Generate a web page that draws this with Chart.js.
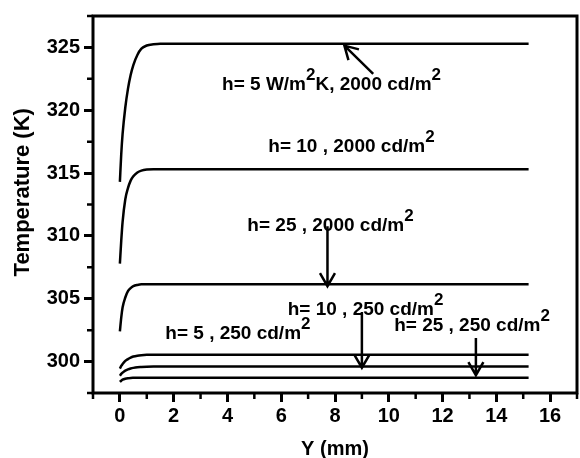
<!DOCTYPE html>
<html>
<head>
<meta charset="utf-8">
<script src="https://cdn.jsdelivr.net/npm/chart.js@4"></script>
<style>
  html, body { margin: 0; padding: 0; background: #fff; }
</style>
</head>
<body>
<canvas id="tempChart" width="580" height="458"></canvas>
<script>
// positions along Y (mm) where the curves were read
const yPos = [0, 0.05, 0.1, 0.2, 0.3, 0.4, 0.5, 0.65, 0.8, 1.0, 1.25, 1.5, 2, 15.2];

// temperatures (K), 2000 cd/m2
const tH5L2000  = [314.3, 316.5, 318.1, 320.2, 321.7, 322.8, 323.6, 324.4, 324.9, 325.15, 325.25, 325.3, 325.3, 325.3];
const tH10L2000 = [307.8, 309.6, 311.1, 312.9, 313.8, 314.4, 314.75, 315.05, 315.2, 315.28, 315.3, 315.3, 315.3, 315.3];
const tH25L2000 = [302.4, 303.5, 304.3, 305.1, 305.6, 305.85, 306.0, 306.1, 306.15, 306.15, 306.15, 306.15, 306.15, 306.15];
// temperatures (K), 250 cd/m2
const tH5L250  = [299.44, 299.65, 299.8, 300.05, 300.2, 300.32, 300.4, 300.47, 300.51, 300.54, 300.55, 300.55, 300.55, 300.55];
const tH10L250 = [298.87, 299.02, 299.12, 299.28, 299.38, 299.45, 299.5, 299.55, 299.57, 299.59, 299.6, 299.6, 299.6, 299.6];
const tH25L250 = [298.38, 298.48, 298.56, 298.64, 298.68, 298.7, 298.71, 298.72, 298.72, 298.72, 298.72, 298.72, 298.72, 298.72];

// axis ticks
const xTickValues = [0, 2, 4, 6, 8, 10, 12, 14, 16];
const xMinorTicks = [-1, 1, 3, 5, 7, 9, 11, 13, 15, 17];
const yTickValues = [300, 305, 310, 315, 320, 325];
const yMinorTicks = [297.5, 302.5, 307.5, 312.5, 317.5, 322.5, 327.5];

const FONT = '"Liberation Sans", Arial, sans-serif';

// text labels inside the plot (data coordinates of left/baseline), parts: [text, superscript]
const notes = [
    { x: 3.80, y: 321.6, parts: [['h= 5 W/m', false], ['2', true], ['K, 2000 cd/m', false], ['2', true]] },
    { x: 5.52, y: 316.7, parts: [['h= 10 , 2000 cd/m', false], ['2', true]] },
    { x: 4.74, y: 310.39, parts: [['h= 25 , 2000 cd/m', false], ['2', true]] },
    { x: 6.24, y: 303.69, parts: [['h= 10 , 250 cd/m', false], ['2', true]] },
    { x: 10.2, y: 302.4, parts: [['h= 25 , 250 cd/m', false], ['2', true]] },
    { x: 1.69, y: 301.76, parts: [['h= 5 , 250 cd/m', false], ['2', true]] }
];

// arrows: tail -> tip, data coordinates
const arrows = [
    { x1: 9.42, y1: 322.9, x2: 8.35, y2: 325.14 },
    { x1: 7.72, y1: 310.77, x2: 7.72, y2: 306.0 },
    { x1: 9.0, y1: 303.94, x2: 9.0, y2: 299.51 },
    { x1: 13.24, y1: 301.88, x2: 13.24, y2: 298.92 }
];

function toPoints(values) {
    return yPos.map((p, i) => ({ x: p, y: values[i] }));
}

const decorPlugin = {
    id: 'decor',
    afterDatasetsDraw(chart) {
        const { ctx, chartArea: a, scales: { x, y } } = chart;
        ctx.save();
        ctx.strokeStyle = '#000';
        ctx.fillStyle = '#000';

        // frame
        ctx.lineWidth = 3;
        ctx.strokeRect(a.left, a.top, a.right - a.left, a.bottom - a.top);

        // minor ticks
        ctx.lineWidth = 2.5;
        ctx.beginPath();
        xMinorTicks.forEach(v => {
            const px = x.getPixelForValue(v);
            ctx.moveTo(px, a.bottom);
            ctx.lineTo(px, a.bottom + 6);
        });
        yMinorTicks.forEach(v => {
            const py = y.getPixelForValue(v);
            ctx.moveTo(a.left, py);
            ctx.lineTo(a.left - 6, py);
        });
        ctx.stroke();

        // arrows with open heads
        ctx.lineWidth = 2.5;
        arrows.forEach(ar => {
            const sx = x.getPixelForValue(ar.x1), sy = y.getPixelForValue(ar.y1);
            const ex = x.getPixelForValue(ar.x2), ey = y.getPixelForValue(ar.y2);
            const ang = Math.atan2(ey - sy, ex - sx);
            const len = 15, spread = Math.PI / 6;
            ctx.beginPath();
            ctx.moveTo(sx, sy);
            ctx.lineTo(ex, ey);
            ctx.moveTo(ex - len * Math.cos(ang - spread), ey - len * Math.sin(ang - spread));
            ctx.lineTo(ex, ey);
            ctx.lineTo(ex - len * Math.cos(ang + spread), ey - len * Math.sin(ang + spread));
            ctx.stroke();
        });

        // labels
        ctx.textBaseline = 'alphabetic';
        ctx.textAlign = 'left';
        notes.forEach(n => {
            let px = x.getPixelForValue(n.x);
            const py = y.getPixelForValue(n.y);
            n.parts.forEach(([txt, sup]) => {
                ctx.font = sup ? 'bold 17px ' + FONT : 'bold 19px ' + FONT;
                ctx.fillText(txt, px, sup ? py - 10 : py);
                px += ctx.measureText(txt).width;
            });
        });

        ctx.restore();
    }
};

const lineStyle = {
    showLine: true,
    borderColor: '#000',
    borderWidth: 2.5,
    pointRadius: 0,
    cubicInterpolationMode: 'monotone',
    fill: false
};

new Chart(document.getElementById('tempChart'), {
    type: 'scatter',
    data: {
        datasets: [
            { label: 'h=5, 2000', data: toPoints(tH5L2000), ...lineStyle },
            { label: 'h=10, 2000', data: toPoints(tH10L2000), ...lineStyle },
            { label: 'h=25, 2000', data: toPoints(tH25L2000), ...lineStyle },
            { label: 'h=5, 250', data: toPoints(tH5L250), ...lineStyle },
            { label: 'h=10, 250', data: toPoints(tH10L250), ...lineStyle },
            { label: 'h=25, 250', data: toPoints(tH25L250), ...lineStyle }
        ]
    },
    options: {
        responsive: false,
        animation: false,
        layout: { padding: { top: 5, right: 3, left: 0, bottom: 0 } },
        scales: {
            x: {
                type: 'linear',
                min: -1,
                max: 17,
                afterFit: scale => { scale.height = 65; },
                afterBuildTicks: scale => { scale.ticks = xTickValues.map(v => ({ value: v })); },
                border: { display: false },
                grid: {
                    drawOnChartArea: false,
                    tickLength: 9,
                    tickWidth: 3,
                    tickColor: '#000'
                },
                ticks: {
                    color: '#000',
                    padding: 2,
                    maxRotation: 0,
                    font: { family: FONT, size: 20, weight: 'bold' }
                },
                title: {
                    display: true,
                    text: 'Y (mm)',
                    color: '#000',
                    padding: 0,
                    font: { family: FONT, size: 20, weight: 'bold', lineHeight: 0.85 }
                }
            },
            y: {
                type: 'linear',
                min: 297.5,
                max: 327.5,
                afterFit: scale => { scale.width = 93; },
                afterBuildTicks: scale => { scale.ticks = yTickValues.map(v => ({ value: v })); },
                border: { display: false },
                grid: {
                    drawOnChartArea: false,
                    tickLength: 9,
                    tickWidth: 3,
                    tickColor: '#000'
                },
                ticks: {
                    color: '#000',
                    padding: 4,
                    font: { family: FONT, size: 20, weight: 'bold' }
                },
                title: {
                    display: true,
                    text: '    Temperature (K)',
                    color: '#000',
                    padding: { top: 10, bottom: 0 },
                    font: { family: FONT, size: 22, weight: 'bold' }
                }
            }
        },
        plugins: {
            legend: { display: false },
            tooltip: { enabled: false }
        }
    },
    plugins: [decorPlugin]
});
</script>
</body>
</html>
